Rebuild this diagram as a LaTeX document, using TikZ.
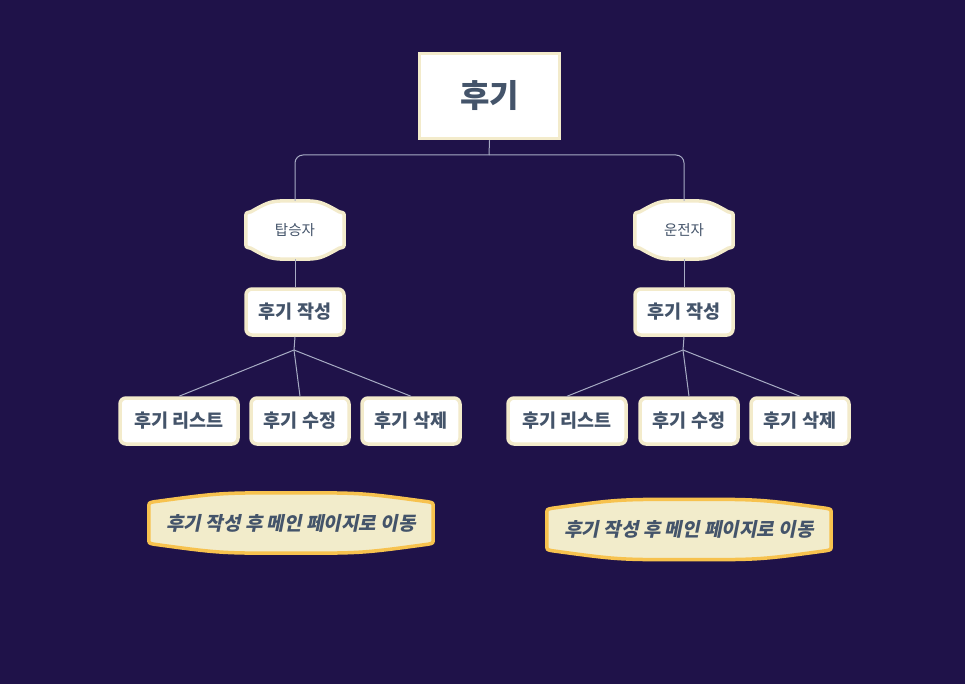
\documentclass[tikz,border=0pt]{standalone}
\usepackage{fontspec}
\setmainfont{Noto Sans CJK KR}
\newfontfamily\slantfont[FakeSlant=0.2]{Noto Sans CJK KR}
\usetikzlibrary{calc}

\definecolor{bgcol}{HTML}{1F1249}
\definecolor{ink}{HTML}{44546A}
\definecolor{cream}{HTML}{F3EBCB}
\definecolor{banfill}{HTML}{F2ECCB}
\definecolor{banline}{HTML}{F7C24E}
\definecolor{linkcol}{HTML}{A7ACC4}

\pgfdeclarelayer{back}
\pgfsetlayers{back,main}

\tikzset{
  box/.style={draw=cream, fill=white, line width=3.5pt, rounded corners=6pt,
    minimum width=98pt, minimum height=46pt, inner sep=0pt, text=ink,
    font=\fontsize{18.5}{21}\selectfont\bfseries},
  rolebox/.style={minimum width=98pt, minimum height=58pt, inner sep=0pt, text=ink,
    font=\fontsize{14.5}{17}\selectfont},
  banner/.style={minimum width=284pt, minimum height=60pt, inner sep=0pt, text=ink,
    font=\fontsize{19}{22}\slantfont\bfseries},
  link/.style={draw=linkcol, line width=1pt},
}

% curved top and bottom around a node: name, rise, fill, line
\newcommand{\bulgebox}[4]{%
  \begin{pgfonlayer}{back}
  \filldraw[fill=#3, draw=#4, line width=3.5pt]
    ($(#1.north west)+(0,#2+5)$)
    .. controls ($(#1.north west)+(0,#2)$) .. ($(#1.north west)+(5,#2-1)$)
    .. controls ($(#1.north west)!0.5!(#1.north)$) .. (#1.north)
    .. controls ($(#1.north east)!0.5!(#1.north)$) .. ($(#1.north east)+(-5,#2-1)$)
    .. controls ($(#1.north east)+(0,#2)$) .. ($(#1.north east)+(0,#2+5)$)
    -- ($(#1.south east)+(0,-#2-5)$)
    .. controls ($(#1.south east)+(0,-#2)$) .. ($(#1.south east)+(-5,-#2+1)$)
    .. controls ($(#1.south east)!0.5!(#1.south)$) .. (#1.south)
    .. controls ($(#1.south west)!0.5!(#1.south)$) .. ($(#1.south west)+(5,-#2+1)$)
    .. controls ($(#1.south west)+(0,-#2)$) .. ($(#1.south west)+(0,-#2-5)$)
    -- cycle;
  \end{pgfonlayer}}

\begin{document}
\begin{tikzpicture}[x=1pt, y=-1pt] %트리 구조: 후기 메뉴
  \begin{pgfonlayer}{back}
    \fill[bgcol] (0,0) rectangle (965,684);
  \end{pgfonlayer}
  \useasboundingbox (0,0) rectangle (965,684);

  \node[box, rounded corners=0pt, line width=3.5pt, minimum width=140pt, minimum height=85pt,
    font=\fontsize{32}{36}\selectfont\bfseries] (root) at (489.5,96) {후기};
  \coordinate (split) at (489,155);

  \node[rolebox] (rider) at (295,230) {탑승자};
  \node[rolebox] (driver) at (684,230) {운전자};
  \bulgebox{rider}{12}{white}{cream}
  \bulgebox{driver}{12}{white}{cream}

  \node[box] (lwrite) at (295,312) {후기 작성};
  \node[box] (rwrite) at (684,312) {후기 작성};
  \coordinate (lfan) at (294,350);
  \coordinate (rfan) at (683,350);

  \node[box, minimum width=118pt] (llist) at (179,421) {후기 리스트};
  \node[box] (ledit) at (300,421) {후기 수정};
  \node[box] (ldel) at (411,421) {후기 삭제};

  \node[box, minimum width=118pt] (rlist) at (567,421) {후기 리스트};
  \node[box] (redit) at (689,421) {후기 수정};
  \node[box] (rdel) at (800,421) {후기 삭제};

  \node[banner] (lnote) at (291,523) {후기 작성 후 메인 페이지로 이동};
  \node[banner] (rnote) at (689,529.5) {후기 작성 후 메인 페이지로 이동};
  \bulgebox{lnote}{10}{banfill}{banline}
  \bulgebox{rnote}{10}{banfill}{banline}

  \draw[link] (root.south) -- (split);
  \draw[link, rounded corners=8pt] (split) -| (rider.north);
  \draw[link, rounded corners=8pt] (split) -| (driver.north);

  \draw[link] (rider.south) -- (lwrite.north);
  \draw[link] (driver.south) -- (rwrite.north);

  \draw[link] (lwrite.south) -- (lfan);
  \draw[link] (lfan) -- (llist.north);
  \draw[link] (lfan) -- (ledit.north);
  \draw[link] (lfan) -- (ldel.north);

  \draw[link] (rwrite.south) -- (rfan);
  \draw[link] (rfan) -- (rlist.north);
  \draw[link] (rfan) -- (redit.north);
  \draw[link] (rfan) -- (rdel.north);
\end{tikzpicture}
\end{document}
